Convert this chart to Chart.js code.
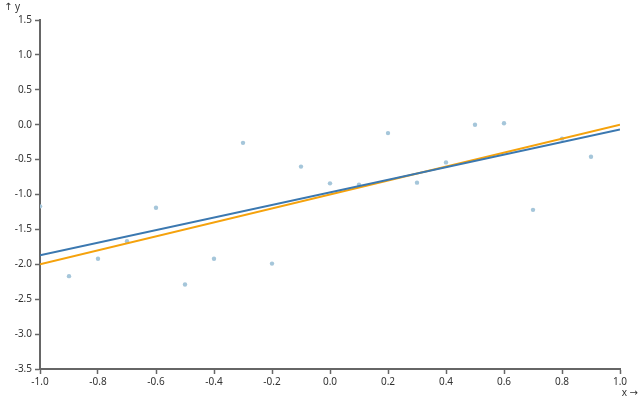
<!DOCTYPE html>
<html>
<head>
<meta charset="utf-8">
<script src="https://cdn.jsdelivr.net/npm/chart.js@4"></script>
<style>
  html, body { margin: 0; padding: 0; background: #fff; }
  #wrap { width: 640px; height: 400px; }
</style>
</head>
<body>
<div id="wrap"><canvas id="chart"></canvas></div>
<script>
// sample points
const xs = [-1.0, -0.9, -0.8, -0.7, -0.6, -0.5, -0.4, -0.3, -0.2, -0.1, 0.0, 0.1, 0.2, 0.3, 0.4, 0.5, 0.6, 0.7, 0.8, 0.9];
const ys = [-1.17, -2.17, -1.92, -1.67, -1.19, -2.29, -1.92, -0.26, -1.99, -0.60, -0.84, -0.86, -0.12, -0.83, -0.54, 0.00, 0.02, -1.22, -0.20, -0.46];

// fitted line (blue) and true line (orange), end points
const lineX = [-1, 1];
const fitY = [-1.87, -0.07];
const trueY = [-2, 0];

const xTicks = [-1.0, -0.8, -0.6, -0.4, -0.2, 0.0, 0.2, 0.4, 0.6, 0.8, 1.0];
const yTicks = [-3.5, -3.0, -2.5, -2.0, -1.5, -1.0, -0.5, 0.0, 0.5, 1.0, 1.5];

const font = { family: '"Noto Sans", "DejaVu Sans", sans-serif', size: 10 };
const axisColor = '#666';

const axisLabels = {
  id: 'axisLabels',
  afterDraw(chart) {
    const ctx = chart.ctx;
    ctx.save();
    ctx.fillStyle = '#333';
    ctx.font = '10px "Noto Sans", "DejaVu Sans", sans-serif';
    ctx.textBaseline = 'middle';
    ctx.textAlign = 'left';
    ctx.fillText('↑ y', 4, 7);
    ctx.textAlign = 'right';
    ctx.fillText('x →', 638, 393);
    ctx.restore();
  }
};

new Chart(document.getElementById('chart'), {
  type: 'scatter',
  data: {
    datasets: [
      {
        label: 'fit',
        type: 'line',
        data: lineX.map((x, i) => ({ x, y: fitY[i] })),
        borderColor: '#3b78b0',
        borderWidth: 2,
        pointRadius: 0,
        fill: false,
        order: 1
      },
      {
        label: 'true',
        type: 'line',
        data: lineX.map((x, i) => ({ x, y: trueY[i] })),
        borderColor: '#f5a20c',
        borderWidth: 2,
        pointRadius: 0,
        fill: false,
        order: 2
      },
      {
        label: 'points',
        data: xs.map((x, i) => ({ x, y: ys[i] })),
        backgroundColor: '#a5c6da',
        borderWidth: 0,
        pointRadius: 2.2,
        order: 3
      }
    ]
  },
  options: {
    responsive: true,
    maintainAspectRatio: false,
    animation: false,
    layout: { padding: { top: 20, right: 20, left: 0, bottom: 0 } },
    plugins: { legend: { display: false }, tooltip: { enabled: false } },
    scales: {
      x: {
        type: 'linear',
        min: -1,
        max: 1,
        afterFit: (s) => { s.height = 31; },
        afterBuildTicks: (s) => { s.ticks = xTicks.map(v => ({ value: v })); },
        border: { color: axisColor, width: 2 },
        grid: { drawOnChartArea: false, color: axisColor, tickLength: 5, tickWidth: 1.5 },
        ticks: {
          color: '#333',
          font,
          padding: 2,
          maxRotation: 0,
          callback: (v) => v.toFixed(1)
        }
      },
      y: {
        type: 'linear',
        min: -3.5,
        max: 1.5,
        afterFit: (s) => { s.width = 40; },
        afterBuildTicks: (s) => { s.ticks = yTicks.map(v => ({ value: v })); },
        border: { color: axisColor, width: 2 },
        grid: { drawOnChartArea: false, color: axisColor, tickLength: 5, tickWidth: 1.5 },
        ticks: {
          color: '#333',
          font,
          padding: 3,
          callback: (v) => v.toFixed(1)
        }
      }
    }
  },
  plugins: [axisLabels]
});
</script>
</body>
</html>
